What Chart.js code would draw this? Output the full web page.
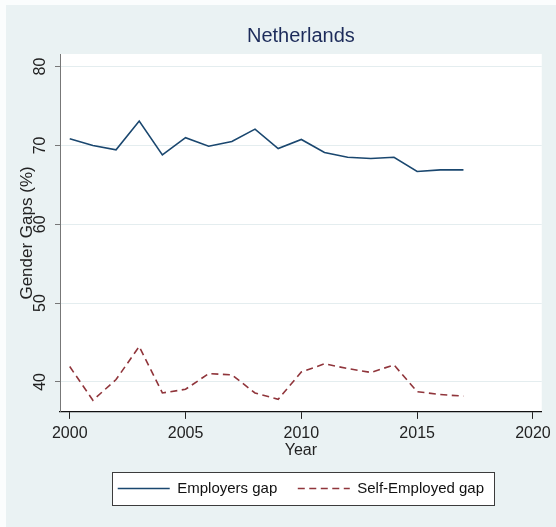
<!DOCTYPE html>
<html>
<head>
<meta charset="utf-8">
<title>Netherlands</title>
<script src="https://cdn.jsdelivr.net/npm/chart.js@4.4.0/dist/chart.umd.min.js"></script>
<style>
  body { margin: 0; background: #fff; }
  #wrap { width: 556px; height: 527px; }
</style>
</head>
<body>
<div id="wrap"><canvas id="gaps"></canvas></div>
<script>
const years = [2000, 2001, 2002, 2003, 2004, 2005, 2006, 2007, 2008, 2009,
               2010, 2011, 2012, 2013, 2014, 2015, 2016, 2017];
const employersGap = [70.85, 70.0, 69.45, 73.1, 68.8, 70.98, 69.9, 70.5, 72.07, 69.6,
                      70.76, 69.1, 68.5, 68.35, 68.5, 66.7, 66.9, 66.9];
const selfEmployedGap = [41.95, 37.67, 40.3, 44.5, 38.6, 39.07, 41.06, 40.9, 38.6, 37.8,
                         41.27, 42.3, 41.7, 41.2, 42.16, 38.77, 38.4, 38.2];
const xTicks = [2000, 2005, 2010, 2015, 2020];
const yTicks = [40, 50, 60, 70, 80];

const font = "'Liberation Sans', Arial, sans-serif";
const legendSize = 15;

// grey graph region, white plot region, framed legend
const backdrop = {
    id: "backdrop",
    beforeDraw(chart) {
        const { ctx, chartArea: a, width, height } = chart;
        ctx.save();
        ctx.fillStyle = "#fbfdfd";
        ctx.fillRect(0, 0, width, height);
        ctx.fillStyle = "#eaf2f3";
        ctx.fillRect(6, 5, width - 6, height - 5);
        ctx.fillStyle = "#ffffff";
        ctx.fillRect(a.left, a.top, a.right - a.left, a.bottom - a.top);

        const boxes = chart.legend.legendHitBoxes;
        if (boxes.length) {
            const first = boxes[0];
            const last = boxes[boxes.length - 1];
            const mid = first.top + legendSize / 2;
            const x0 = Math.round(first.left - 6);
            const x1 = Math.round(last.left + last.width + 10);
            const y0 = Math.round(mid - 17);
            ctx.fillStyle = "#ffffff";
            ctx.fillRect(x0, y0, x1 - x0, 33);
            ctx.strokeStyle = "#3c3c3c";
            ctx.lineWidth = 1;
            ctx.strokeRect(x0 + 0.5, y0 + 0.5, x1 - x0, 33);
        }
        ctx.restore();
    },
};

// stata style: y labels turned on their side
const yLabels = {
    id: "yLabels",
    afterDraw(chart) {
        const scale = chart.scales.y;
        const { ctx } = chart;
        ctx.save();
        ctx.font = "16px " + font;
        ctx.fillStyle = "#222";
        ctx.textAlign = "center";
        ctx.textBaseline = "middle";
        scale.ticks.forEach((t) => {
            const py = scale.getPixelForValue(t.value);
            ctx.save();
            ctx.translate(scale.right - 19, py);
            ctx.rotate(-Math.PI / 2);
            ctx.fillText(String(t.value), 0, 0);
            ctx.restore();
        });
        ctx.restore();
    },
};

new Chart(document.getElementById("gaps"), {
    type: "line",
    plugins: [backdrop, yLabels],
    data: {
        datasets: [
            {
                label: "Employers gap",
                data: years.map((yr, i) => ({ x: yr, y: employersGap[i] })),
                borderColor: "#1a476f",
                borderWidth: 1.6,
                pointRadius: 0,
                tension: 0,
            },
            {
                label: "Self-Employed gap",
                data: years.map((yr, i) => ({ x: yr, y: selfEmployedGap[i] })),
                borderColor: "#90353b",
                borderWidth: 1.6,
                borderDash: [7, 4.5],
                pointRadius: 0,
                tension: 0,
            },
        ],
    },
    options: {
        responsive: true,
        maintainAspectRatio: false,
        animation: false,
        layout: { padding: { left: 0, right: 14, top: 0, bottom: 21 } },
        plugins: {
            tooltip: { enabled: false },
            title: {
                display: true,
                text: "Netherlands",
                fullSize: false,
                color: "#1c2b5a",
                font: { family: font, size: 20, weight: "normal" },
                padding: { top: 24, bottom: 6 },
            },
            legend: {
                position: "bottom",
                fullSize: false,
                labels: {
                    usePointStyle: true,
                    pointStyle: "line",
                    pointStyleWidth: 52,
                    color: "#111",
                    font: { family: font, size: legendSize },
                    padding: 20.5,
                    generateLabels: (chart) =>
                        Chart.defaults.plugins.legend.labels.generateLabels(chart).map((item) => {
                            item.lineDash = chart.data.datasets[item.datasetIndex].borderDash || [];
                            return item;
                        }),
                },
            },
        },
        scales: {
            x: {
                type: "linear",
                min: 1999.58,
                max: 2020.38,
                afterBuildTicks: (s) => { s.ticks = xTicks.map((v) => ({ value: v })); },
                afterFit: (s) => { s.height = 48.6; },
                ticks: {
                    autoSkip: false,
                    maxRotation: 0,
                    padding: 5,
                    color: "#222",
                    font: { family: font, size: 16 },
                    callback: (v) => String(v),
                },
                grid: {
                    display: true,
                    drawOnChartArea: false,
                    drawTicks: true,
                    tickLength: 7,
                    tickColor: "#222",
                },
                border: { display: true, color: "#111", width: 1.2 },
                title: {
                    display: true,
                    text: "Year",
                    color: "#222",
                    font: { family: font, size: 16 },
                    padding: { top: 0, bottom: 0 },
                },
            },
            y: {
                min: 36.2,
                max: 81.6,
                afterBuildTicks: (s) => { s.ticks = yTicks.map((v) => ({ value: v })); },
                afterFit: (s) => { s.width = 60; },
                ticks: { display: false },
                grid: {
                    color: "#e4edef",
                    drawTicks: true,
                    tickLength: 5,
                    tickColor: "#777",
                },
                border: { display: true, color: "#777", width: 1 },
                title: {
                    display: true,
                    text: "Gender Gaps (%)",
                    color: "#222",
                    font: { family: font, size: 17 },
                    padding: { top: 17, bottom: 0 },
                },
            },
        },
    },
});
</script>
</body>
</html>
